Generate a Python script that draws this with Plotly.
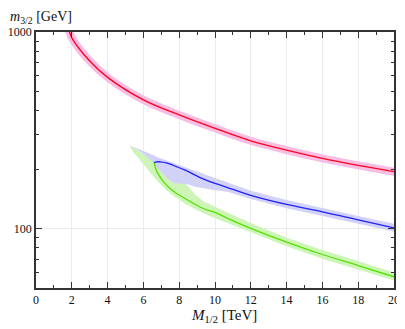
"""
m_{3/2} vs M_{1/2}: three branches with their uncertainty bands.
"""

import plotly.graph_objects as go

# values
# red branch (line and band drawn as thick line)
red_M = [1.8, 1.87, 2, 3, 4, 6, 8, 10, 12, 14, 16, 18, 20, 20.3]
red_m = [1040, 1000, 934, 712, 588, 452, 379, 324, 280, 251, 228, 210, 195, 193]

# blue branch
blue_M = [6.59, 6.74, 6.93, 7.29, 7.84, 8.3, 9.3, 10, 10.7, 12, 14, 16, 18, 20]
blue_m = [216, 218.5, 219, 216, 207, 199, 180, 170, 162, 148, 133, 122, 111, 101]

# green branch
green_M = [6.61, 6.7, 6.9, 7.15, 7.6, 8.3, 9.4, 10, 10.7, 12, 14, 16, 18, 20]
green_m = [216, 200, 185, 172, 157, 143, 126, 121, 113, 100.5, 85.5, 74, 65, 57]

# blue band edges
blue_up_M = [5.22, 5.5, 5.91, 6.4, 6.83, 7.5, 8.3, 9.5, 10.69, 12, 14, 16, 18, 20, 20.3]
blue_up_m = [266, 260, 251, 240, 230, 218, 206, 188, 172, 156, 140, 128, 116, 106, 104.5]
blue_lo_M = [20.3, 20, 18, 16, 14, 12, 10.69, 9.9, 9.4, 8.9, 8.49, 8.1, 7.7, 7.4, 7.1, 6.9, 6.75, 6.61, 6.2, 5.7]
blue_lo_m = [95, 96.5, 106, 116.5, 127, 141.5, 154, 157.5, 160, 163.5, 168, 169, 171, 178, 189, 197, 205, 216, 232, 250]

# green band edges
green_lo_M = [5.22, 5.45, 5.73, 6.0, 6.28, 6.55, 6.83, 7.25, 7.75, 8.4, 9.04, 9.8, 10.69, 12, 14, 16, 18, 20, 20.3]
green_lo_m = [266, 244, 228, 212, 199, 185, 173, 158, 145, 133, 124, 115, 107, 96, 81.5, 70.5, 62, 54.5, 53.5]
green_up_M = [20.3, 20, 18, 16, 14, 12, 10.69, 9.9, 9.4, 8.9, 8.49, 8.1, 7.7, 7.1, 6.61]
green_up_m = [59, 60, 68.5, 78, 90, 107, 121, 131, 137, 149, 165, 174, 181, 196, 220]

x_ticks = list(range(0, 21, 2))
y_ticks = [100, 1000]
y_minor = [60, 70, 80, 90, 200, 300, 400, 500, 600, 700, 800, 900]

FONT = "Liberation Serif"
AXIS = "#333333"

fig = go.Figure()

# bands
fig.add_trace(go.Scatter(
    x=green_lo_M + green_up_M,
    y=green_lo_m + green_up_m,
    fill="toself",
    fillcolor="#cdf5b8",
    mode="lines",
    line=dict(width=0),
    hoverinfo="skip",
))
fig.add_trace(go.Scatter(
    x=blue_up_M + blue_lo_M,
    y=blue_up_m + blue_lo_m,
    fill="toself",
    fillcolor="#d2d2f8",
    mode="lines",
    line=dict(width=0),
    hoverinfo="skip",
))
fig.add_trace(go.Scatter(
    x=red_M, y=red_m,
    mode="lines",
    line=dict(color="#f8bde2", width=8, shape="spline"),
    hoverinfo="skip",
))

# central lines
fig.add_trace(go.Scatter(
    x=red_M, y=red_m, mode="lines",
    line=dict(color="#ff0020", width=1.3, shape="spline"),
))
fig.add_trace(go.Scatter(
    x=blue_M, y=blue_m, mode="lines",
    line=dict(color="#1f1fff", width=1.3, shape="spline"),
))
fig.add_trace(go.Scatter(
    x=green_M, y=green_m, mode="lines",
    line=dict(color="#55e000", width=1.3, shape="spline"),
))

# page body adds an 8px offset, so the figure is sized to the visible part
fig.update_layout(
    width=397,
    height=321,
    margin=dict(l=28, r=11, t=24, b=41),
    paper_bgcolor="white",
    plot_bgcolor="white",
    showlegend=False,
    font=dict(family=FONT, size=12, color="#111111"),
)

fig.update_xaxes(
    range=[0, 20],
    tickvals=x_ticks,
    automargin=False,
    showline=True, linecolor=AXIS, linewidth=1.5, mirror="ticks",
    ticks="inside", ticklen=6, tickcolor=AXIS, tickwidth=1.2,
    showgrid=True, gridcolor="#ececec", gridwidth=1,
    zeroline=False,
    minor=dict(dtick=1, ticks="inside", ticklen=3, tickcolor=AXIS, showgrid=False),
)
fig.update_yaxes(
    type="log",
    range=[1.69897, 3],
    tickvals=y_ticks,
    ticktext=[str(v) for v in y_ticks],
    automargin=False,
    showline=True, linecolor=AXIS, linewidth=1.5, mirror="ticks",
    ticks="inside", ticklen=6, tickcolor=AXIS, tickwidth=1.2,
    showgrid=True, gridcolor="#ececec", gridwidth=1,
    zeroline=False,
    minor=dict(tickvals=y_minor, ticks="inside", ticklen=3, tickcolor=AXIS, showgrid=False),
)

# axis titles
fig.add_annotation(
    text="<i>m</i><sub>3/2</sub> [GeV]",
    xref="paper", yref="paper", x=0, y=1,
    xanchor="left", yanchor="bottom", xshift=-28, yshift=4,
    showarrow=False, font=dict(family=FONT, size=14),
)
fig.add_annotation(
    text="<i>M</i><sub>1/2</sub> [TeV]",
    xref="paper", yref="paper", x=0.525, y=0,
    xanchor="center", yanchor="top", yshift=-17,
    showarrow=False, font=dict(family=FONT, size=15),
)

fig.write_html("out.html")
